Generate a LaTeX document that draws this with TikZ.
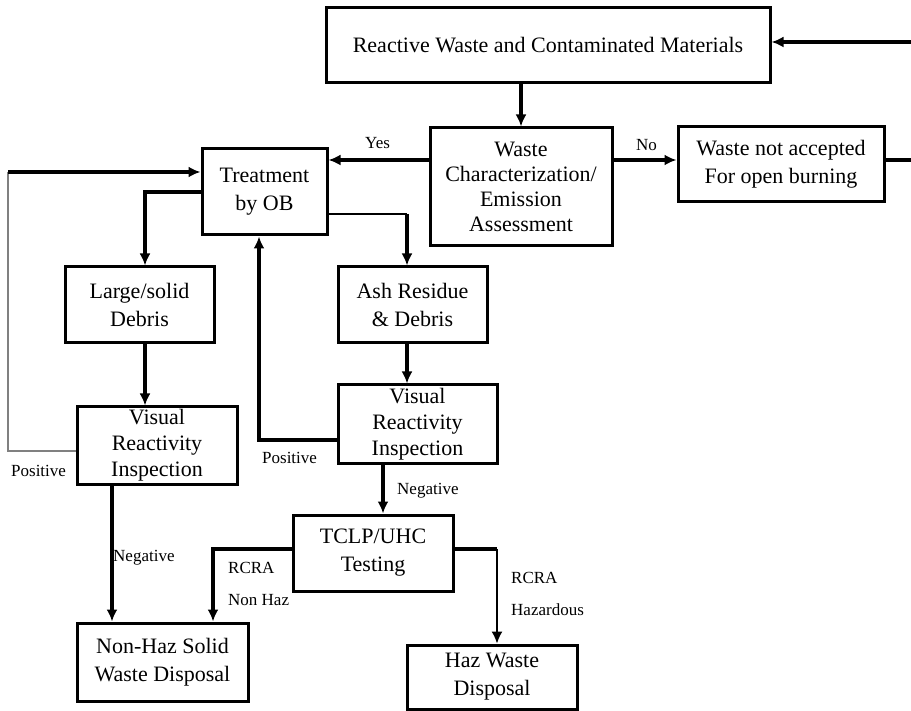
\documentclass[tikz,border=0pt]{standalone}
\usepackage{fontspec}
\setmainfont{Liberation Serif}
\usetikzlibrary{arrows.meta}

\begin{document}
\begin{tikzpicture}[x=1pt,y=-1pt,
		box/.style={draw,line width=3pt,align=center,inner sep=0pt,font=\fontsize{22}{28}\selectfont},
		conn/.style={line width=3.5pt,-{Latex[length=12pt,width=11pt]}},
		thinconn/.style={line width=1.5pt,-{Latex[length=12pt,width=11pt]}},
		thickline/.style={line width=3.5pt},
		thinline/.style={line width=1.5pt},
		lbl/.style={anchor=west,inner sep=0pt,font=\fontsize{17}{20}\selectfont}]

		\useasboundingbox (0,0) rectangle (911,711);

		% Boxes
		\node[box,minimum width=444pt,minimum height=75pt] (react) at (548,45.5) {Reactive Waste and Contaminated Materials};
		\node[box,minimum width=182pt,minimum height=118pt,font=\fontsize{22}{25}\selectfont] (char) at (521,187) {Waste\\Characterization/\\Emission\\Assessment};
		\node[box,minimum width=206pt,minimum height=75pt] (notacc) at (781,164.5) {Waste not accepted\\For open burning};
		\node[box,minimum width=125pt,minimum height=86pt] (treat) at (264.5,192) {Treatment\\by OB};
		\node[box,minimum width=149pt,minimum height=76pt] (large) at (139.5,305) {Large/solid\\Debris};
		\node[box,minimum width=149pt,minimum height=76pt] (ash) at (412.5,305) {Ash Residue\\\& Debris};
		\node[box,minimum width=160pt,minimum height=77pt,font=\fontsize{22}{26}\selectfont] (vis1) at (157,445.5) {Visual\\Reactivity\\Inspection};
		\node[box,minimum width=159pt,minimum height=78pt,font=\fontsize{22}{26}\selectfont] (vis2) at (417.5,424) {Visual\\Reactivity\\Inspection};
		\node[box,minimum width=160pt,minimum height=76pt] (tclp) at (373,553) {TCLP/UHC\\Testing};
		\node[box,minimum width=171pt,minimum height=78pt] (nonhaz) at (162.5,662) {Non-Haz Solid\\Waste Disposal};
		\node[box,minimum width=170pt,minimum height=64pt] (haz) at (492,677) {Haz Waste\\Disposal};

		% Top part
		\coordinate (rin) at (911,42);
		\coordinate (rout) at (911,160);
		\coordinate (cw) at ([yshift=27pt]char.west);
		\coordinate (ce) at ([yshift=27pt]char.east);
		\draw[conn] (rin) -- (rin -| react.east);
		\draw[conn] (char.north |- react.south) -- (char.north);
		\draw[conn] (cw) -- (cw -| treat.east);
		\draw[conn] (ce) -- (ce -| notacc.west);
		\draw[thickline] (rout -| notacc.east) -- (rout);
		\node[lbl] (yes) at (365,143) {Yes};
		\node[lbl] (no) at (636,145) {No};

		% Left branch
		\coordinate (lt) at (8,172);
		\coordinate (lb) at ([yshift=-5.5pt]vis1.west);
		\coordinate (lg) at ([xshift=5.5pt]large.north);
		\coordinate (vn) at ([xshift=-45pt]vis1.south);
		\draw[thinline,gray] (lb) -| (lt);
		\draw[conn] (lt) -- (lt -| treat.west);
		\draw[conn] (treat.west) -| (lg);
		\draw[conn] (lg |- large.south) -- (lg |- vis1.north);
		\draw[conn] (vn) -- (vn |- nonhaz.north);
		\node[lbl] (pos1) at (11,471) {Positive};
		\node[lbl] (neg1) at (113,558) {Negative};

		% Right branch
		\coordinate (ta) at ([yshift=-22pt]treat.east);
		\coordinate (an) at ([xshift=-5.5pt]ash.north);
		\coordinate (vp) at ([yshift=-16pt]vis2.west);
		\coordinate (tb) at ([xshift=-5.5pt]treat.south);
		\coordinate (vt) at ([xshift=-34.5pt]vis2.south);
		\draw[thinline] (ta) -- (ta -| an);
		\draw[conn] (ta -| an) -- (an);
		\draw[conn] (an |- ash.south) -- (an |- vis2.north);
		\draw[conn] (vp) -| (tb);
		\draw[conn] (vt) -- (vt |- tclp.north);
		\node[lbl] (pos2) at (262,458) {Positive};
		\node[lbl] (neg2) at (397,491) {Negative};

		% Testing
		\coordinate (tw) at ([yshift=4pt]tclp.west);
		\coordinate (nn) at ([xshift=50.5pt]nonhaz.north);
		\coordinate (te) at ([yshift=4pt]tclp.east);
		\coordinate (hn) at ([xshift=5pt]haz.north);
		\draw[conn] (tw) -| (nn);
		\draw[thickline] (te) -- (te -| hn);
		\draw[thinconn] (te -| hn) -- (hn);
		\node[lbl] (rcra1) at (228,568) {RCRA};
		\node[lbl] (nonhazlbl) at (228,600) {Non Haz};
		\node[lbl] (rcra2) at (511,578) {RCRA};
		\node[lbl] (hazlbl) at (511,610) {Hazardous};
		\end{tikzpicture}
\end{document}
